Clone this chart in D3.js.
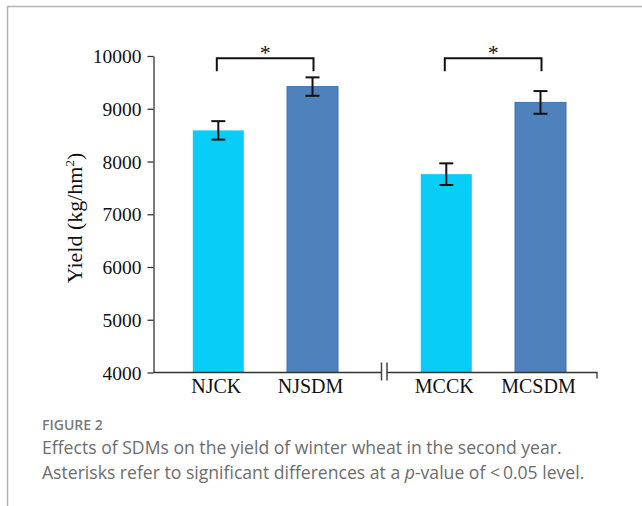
<!DOCTYPE html>
<html>
<head>
<meta charset="utf-8">
<script src="https://cdn.jsdelivr.net/npm/d3@7"></script>
<style>
  html, body { margin: 0; padding: 0; background: #fff; }
  svg { display: block; }
</style>
</head>
<body>
<svg id="chart" width="642" height="506"></svg>
<script>
// Winter wheat yield, second year
const categories = ["NJCK", "NJSDM", "MCCK", "MCSDM"];
const groups = [0, 0, 1, 1];
const yields = [8590, 9420, 7760, 9120];
const errors = [175, 175, 205, 215];
const yTicks = [4000, 5000, 6000, 7000, 8000, 9000, 10000];
const significance = [["NJCK", "NJSDM"], ["MCCK", "MCSDM"]];

const barColors = { CK: "#08CDF6", SDM: "#4F81BD" };
const serif = "'Liberation Serif', 'Times New Roman', serif";

const svg = d3.select("#chart");

// Frame lines
svg.append("line").attr("x1", 7).attr("x2", 642).attr("y1", 6.5).attr("y2", 6.5)
  .attr("stroke", "#b4b4b4").attr("stroke-width", 1.5);
svg.append("line").attr("x1", 7.5).attr("x2", 7.5).attr("y1", 6).attr("y2", 506)
  .attr("stroke", "#b4b4b4").attr("stroke-width", 1.5);

const y = d3.scaleLinear().domain([4000, 10000]).range([372.5, 56]);
// slot position per bar: groups separated by an extra gap
const slots = categories.map((c, i) => i + groups[i] * 0.42);
const x = d3.scaleLinear().domain([0, 3.42]).range([218.3, 540.5]);
const barW = 51;

// Y axis
const yAxis = svg.append("g").attr("transform", "translate(153.5,0)")
  .call(d3.axisLeft(y).tickValues(yTicks).tickFormat(d3.format("d"))
    .tickSizeInner(6).tickSizeOuter(0).tickPadding(6));
yAxis.selectAll("path, line").attr("stroke", "#333").attr("stroke-width", 1.3);
yAxis.selectAll("text").attr("font-family", serif).attr("font-size", 19.5)
  .attr("fill", "#111").attr("dy", "0.34em");

// Y title
svg.append("text")
  .attr("transform", "translate(82,218) rotate(-90)")
  .attr("text-anchor", "middle")
  .attr("font-family", serif).attr("font-size", 22).attr("fill", "#111")
  .html("Yield (kg/hm<tspan dy='-8' font-size='13'>2</tspan><tspan dy='8'>)</tspan>");

// Bars
svg.selectAll("rect.bar").data(categories).enter().append("rect")
  .attr("class", "bar")
  .attr("x", (d, i) => x(slots[i]) - barW / 2)
  .attr("width", barW)
  .attr("y", (d, i) => y(yields[i]))
  .attr("height", (d, i) => y(4000) - y(yields[i]))
  .attr("fill", d => d.endsWith("SDM") ? barColors.SDM : barColors.CK)
  .attr("stroke", d => d.endsWith("SDM") ? "#3f73b3" : "none")
  .attr("stroke-width", 1);

// Error bars
const capW = 7;
const eb = svg.selectAll("g.err").data(categories).enter().append("g").attr("class", "err");
eb.append("line")
  .attr("x1", (d, i) => x(slots[i])).attr("x2", (d, i) => x(slots[i]))
  .attr("y1", (d, i) => y(yields[i] + errors[i])).attr("y2", (d, i) => y(yields[i] - errors[i]));
eb.append("line")
  .attr("x1", (d, i) => x(slots[i]) - capW).attr("x2", (d, i) => x(slots[i]) + capW)
  .attr("y1", (d, i) => y(yields[i] + errors[i])).attr("y2", (d, i) => y(yields[i] + errors[i]));
eb.append("line")
  .attr("x1", (d, i) => x(slots[i]) - capW).attr("x2", (d, i) => x(slots[i]) + capW)
  .attr("y1", (d, i) => y(yields[i] - errors[i])).attr("y2", (d, i) => y(yields[i] - errors[i]));
eb.selectAll("line").attr("stroke", "#111").attr("stroke-width", 2);

// X axis with a break between the two sites
const baseY = y(4000);
const breakL = 381.5, breakR = 387;
svg.append("path")
  .attr("d", `M153.5,${baseY}H${breakL}`)
  .attr("stroke", "#333").attr("stroke-width", 1.3).attr("fill", "none");
svg.append("path")
  .attr("d", `M${breakR},${baseY}H597V${baseY + 6}`)
  .attr("stroke", "#333").attr("stroke-width", 1.3).attr("fill", "none");
[breakL, breakR].forEach(bx => {
  svg.append("line").attr("x1", bx).attr("x2", bx)
    .attr("y1", baseY - 10).attr("y2", baseY + 8)
    .attr("stroke", "#444").attr("stroke-width", 1.5);
});

// Category labels
svg.selectAll("text.cat").data(categories).enter().append("text")
  .attr("class", "cat")
  .attr("x", (d, i) => x(slots[i]) - 2)
  .attr("y", 392.5)
  .attr("text-anchor", "middle")
  .attr("font-family", serif).attr("font-size", 20).attr("fill", "#111")
  .text(d => d);

// Significance brackets, all at one common level above the tallest error bar
const bracketTop = y(d3.max(yields.map((v, i) => v + errors[i]))) - 19;
significance.forEach(([a, b]) => {
  const ia = categories.indexOf(a), ib = categories.indexOf(b);
  const xa = x(slots[ia]) - 1.5, xb = x(slots[ib]) + 1;
  svg.append("path")
    .attr("d", `M${xa},${bracketTop + 13}V${bracketTop}H${xb}V${bracketTop + 13}`)
    .attr("fill", "none").attr("stroke", "#111").attr("stroke-width", 2);
  svg.append("text")
    .attr("x", (xa + xb) / 2).attr("y", bracketTop + 2)
    .attr("text-anchor", "middle")
    .attr("font-family", serif).attr("font-size", 22).attr("fill", "#111")
    .text("*");
});

// Caption
const sans = "'Open Sans', 'Noto Sans', sans-serif";
svg.append("text").attr("x", 42).attr("y", 430)
  .attr("font-family", sans).attr("font-size", 14).attr("font-weight", 600)
  .attr("fill", "#7a7a7a").text("FIGURE 2");
svg.append("text").attr("x", 42).attr("y", 454)
  .attr("font-family", sans).attr("font-size", 17.6).attr("fill", "#6d6d6d")
  .text("Effects of SDMs on the yield of winter wheat in the second year.");
svg.append("text").attr("x", 42).attr("y", 479)
  .attr("font-family", sans).attr("font-size", 17.6).attr("fill", "#6d6d6d")
  .html("Asterisks refer to significant differences at a <tspan font-style='italic'>p</tspan>-value of &lt;\u20090.05 level.");
</script>
</body>
</html>
